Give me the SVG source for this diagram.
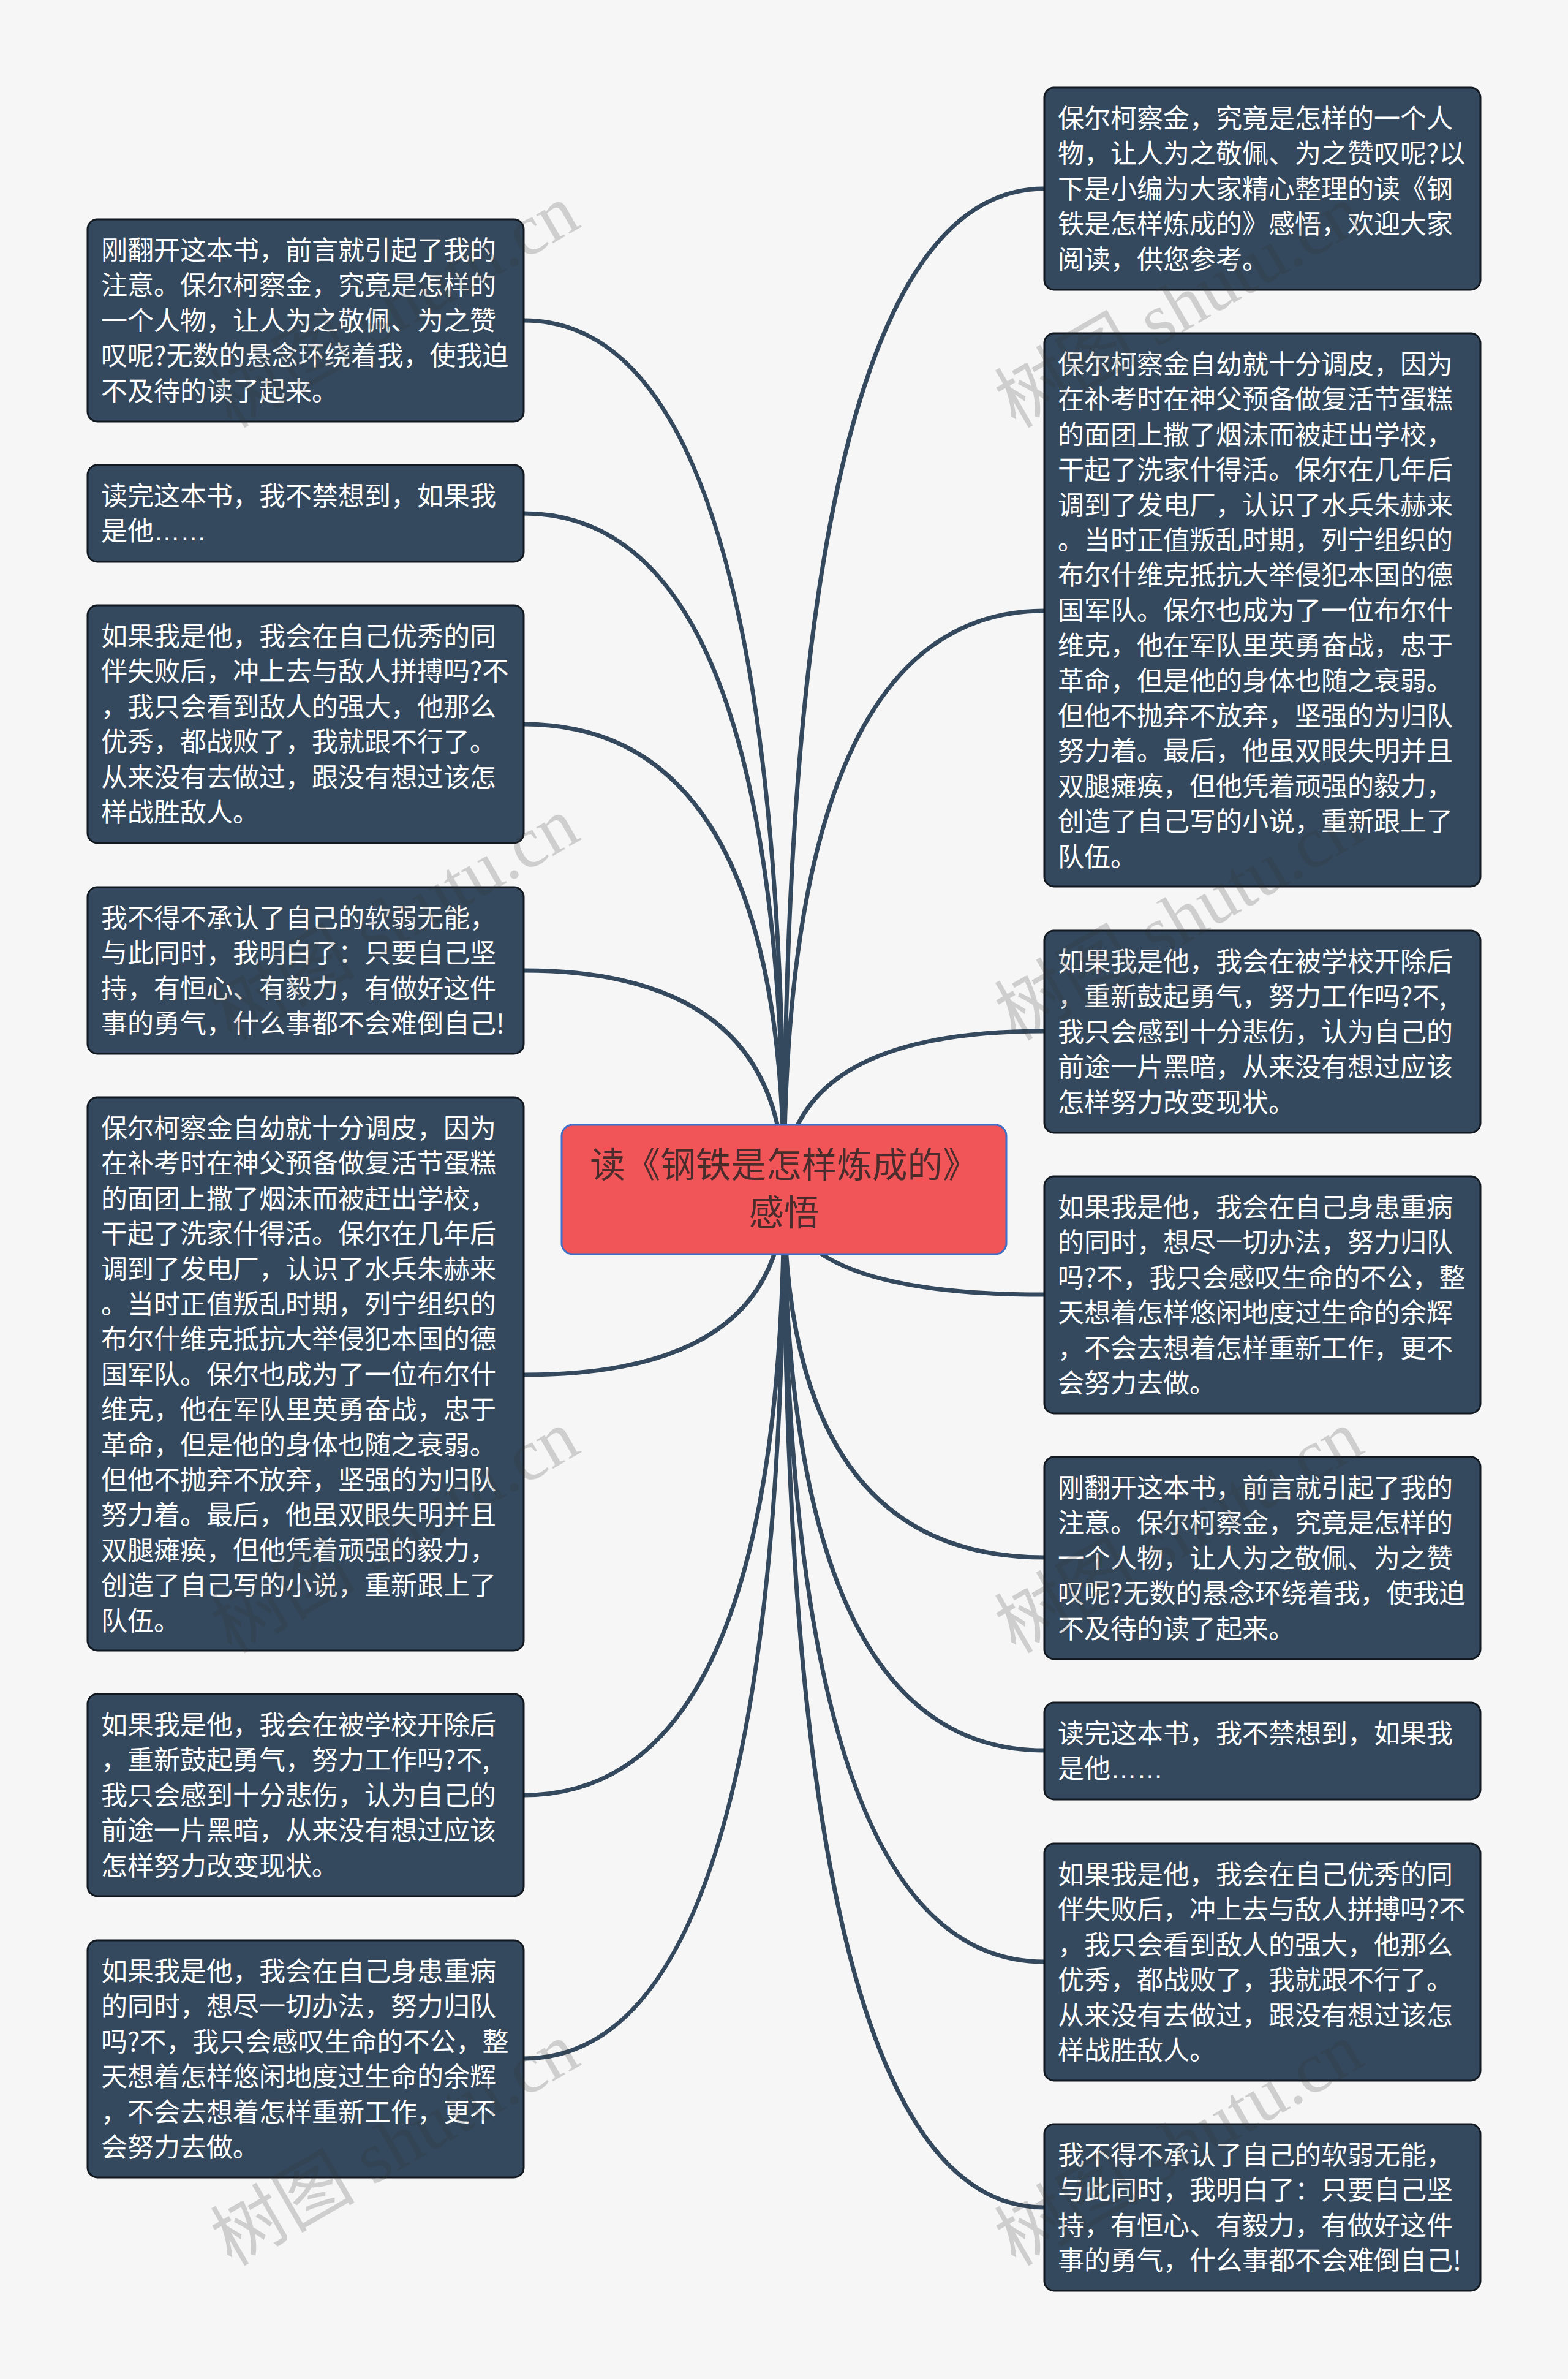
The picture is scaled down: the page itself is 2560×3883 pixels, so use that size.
<svg xmlns="http://www.w3.org/2000/svg" width="2560" height="3883" viewBox="0 0 2560 3883">
<style>
.bg{fill:#f6f6f6}
.conn{fill:none;stroke:#34495e;stroke-width:7;stroke-linecap:round}
.box{fill:#34495e;stroke:#111820;stroke-width:3}
.root{fill:#f25558;stroke:#3f6fc9;stroke-width:3}
.t{font-family:"Noto Sans CJK SC","Noto Sans",sans-serif;font-size:43px;fill:#ffffff}
.e{font-family:"Liberation Sans",sans-serif}
.rt{font-family:"Noto Sans CJK SC","Noto Sans",sans-serif;font-size:57.6px;fill:#4a2c2c;text-anchor:middle}
.wm{font-family:"Liberation Serif","Noto Sans CJK SC",serif;font-size:118px;fill:#333333;fill-opacity:.2}
</style>
<rect class="bg" width="2560" height="3883"/>
<g id="connectors">
<path class="conn" d="M1280 1941Q1280 523 855 523"/>
<path class="conn" d="M1280 1941Q1280 838 855 838"/>
<path class="conn" d="M1280 1941Q1280 1182 855 1182"/>
<path class="conn" d="M1280 1941Q1280 1584 855 1584"/>
<path class="conn" d="M1280 1941Q1280 2244 855 2244"/>
<path class="conn" d="M1280 1941Q1280 2930 855 2930"/>
<path class="conn" d="M1280 1941Q1280 3360 855 3360"/>
<path class="conn" d="M1280 1941Q1280 308 1705 308"/>
<path class="conn" d="M1280 1941Q1280 997 1705 997"/>
<path class="conn" d="M1280 1941Q1280 1683 1705 1683"/>
<path class="conn" d="M1280 1941Q1280 2113 1705 2113"/>
<path class="conn" d="M1280 1941Q1280 2542 1705 2542"/>
<path class="conn" d="M1280 1941Q1280 2857 1705 2857"/>
<path class="conn" d="M1280 1941Q1280 3202 1705 3202"/>
<path class="conn" d="M1280 1941Q1280 3603 1705 3603"/>
</g>
<g id="root">
<rect class="root" x="917" y="1836" width="726" height="211" rx="18"/>
<text class="rt" x="1280" y="1922">读《钢铁是怎样炼成的》</text>
<text class="rt" x="1280" y="2000">感悟</text>
</g>
<g id="left-1">
<rect class="box" x="143" y="358" width="712" height="330" rx="16"/>
<text class="t" y="424"><tspan x="165">刚翻开这本书，前言就引起了我的</tspan><tspan x="165" dy="57.4">注意。保尔柯察金，究竟是怎样的</tspan><tspan x="165" dy="57.4">一个人物，让人为之敬佩、为之赞</tspan><tspan x="165" dy="57.4">叹呢?无数的悬念环绕着我，使我迫</tspan><tspan x="165" dy="57.4">不及待的读了起来。</tspan></text>
</g>
<g id="left-2">
<rect class="box" x="143" y="759" width="712" height="158" rx="16"/>
<text class="t" y="825"><tspan x="165">读完这本书，我不禁想到，如果我</tspan><tspan x="165" dy="57.4">是他<tspan class="e">……</tspan></tspan></text>
</g>
<g id="left-3">
<rect class="box" x="143" y="988" width="712" height="388" rx="16"/>
<text class="t" y="1054"><tspan x="165">如果我是他，我会在自己优秀的同</tspan><tspan x="165" dy="57.4">伴失败后，冲上去与敌人拼搏吗?不</tspan><tspan x="165" dy="57.4">，我只会看到敌人的强大，他那么</tspan><tspan x="165" dy="57.4">优秀，都战败了，我就跟不行了。</tspan><tspan x="165" dy="57.4">从来没有去做过，跟没有想过该怎</tspan><tspan x="165" dy="57.4">样战胜敌人。</tspan></text>
</g>
<g id="left-4">
<rect class="box" x="143" y="1448" width="712" height="272" rx="16"/>
<text class="t" y="1514"><tspan x="165">我不得不承认了自己的软弱无能，</tspan><tspan x="165" dy="57.4">与此同时，我明白了：只要自己坚</tspan><tspan x="165" dy="57.4">持，有恒心、有毅力，有做好这件</tspan><tspan x="165" dy="57.4">事的勇气，什么事都不会难倒自己!</tspan></text>
</g>
<g id="left-5">
<rect class="box" x="143" y="1791" width="712" height="903" rx="16"/>
<text class="t" y="1857"><tspan x="165">保尔柯察金自幼就十分调皮，因为</tspan><tspan x="165" dy="57.4">在补考时在神父预备做复活节蛋糕</tspan><tspan x="165" dy="57.4">的面团上撒了烟沫而被赶出学校，</tspan><tspan x="165" dy="57.4">干起了洗家什得活。保尔在几年后</tspan><tspan x="165" dy="57.4">调到了发电厂，认识了水兵朱赫来</tspan><tspan x="165" dy="57.4">。当时正值叛乱时期，列宁组织的</tspan><tspan x="165" dy="57.4">布尔什维克抵抗大举侵犯本国的德</tspan><tspan x="165" dy="57.4">国军队。保尔也成为了一位布尔什</tspan><tspan x="165" dy="57.4">维克，他在军队里英勇奋战，忠于</tspan><tspan x="165" dy="57.4">革命，但是他的身体也随之衰弱。</tspan><tspan x="165" dy="57.4">但他不抛弃不放弃，坚强的为归队</tspan><tspan x="165" dy="57.4">努力着。最后，他虽双眼失明并且</tspan><tspan x="165" dy="57.4">双腿瘫痪，但他凭着顽强的毅力，</tspan><tspan x="165" dy="57.4">创造了自己写的小说，重新跟上了</tspan><tspan x="165" dy="57.4">队伍。</tspan></text>
</g>
<g id="left-6">
<rect class="box" x="143" y="2765" width="712" height="330" rx="16"/>
<text class="t" y="2831"><tspan x="165">如果我是他，我会在被学校开除后</tspan><tspan x="165" dy="57.4">，重新鼓起勇气，努力工作吗?不,</tspan><tspan x="165" dy="57.4">我只会感到十分悲伤，认为自己的</tspan><tspan x="165" dy="57.4">前途一片黑暗，从来没有想过应该</tspan><tspan x="165" dy="57.4">怎样努力改变现状。</tspan></text>
</g>
<g id="left-7">
<rect class="box" x="143" y="3167" width="712" height="387" rx="16"/>
<text class="t" y="3233"><tspan x="165">如果我是他，我会在自己身患重病</tspan><tspan x="165" dy="57.4">的同时，想尽一切办法，努力归队</tspan><tspan x="165" dy="57.4">吗?不，我只会感叹生命的不公，整</tspan><tspan x="165" dy="57.4">天想着怎样悠闲地度过生命的余辉</tspan><tspan x="165" dy="57.4">，不会去想着怎样重新工作，更不</tspan><tspan x="165" dy="57.4">会努力去做。</tspan></text>
</g>
<g id="right-1">
<rect class="box" x="1705" y="143" width="712" height="330" rx="16"/>
<text class="t" y="209"><tspan x="1727">保尔柯察金，究竟是怎样的一个人</tspan><tspan x="1727" dy="57.4">物，让人为之敬佩、为之赞叹呢?以</tspan><tspan x="1727" dy="57.4">下是小编为大家精心整理的读《钢</tspan><tspan x="1727" dy="57.4">铁是怎样炼成的》感悟，欢迎大家</tspan><tspan x="1727" dy="57.4">阅读，供您参考。</tspan></text>
</g>
<g id="right-2">
<rect class="box" x="1705" y="544" width="712" height="903" rx="16"/>
<text class="t" y="610"><tspan x="1727">保尔柯察金自幼就十分调皮，因为</tspan><tspan x="1727" dy="57.4">在补考时在神父预备做复活节蛋糕</tspan><tspan x="1727" dy="57.4">的面团上撒了烟沫而被赶出学校，</tspan><tspan x="1727" dy="57.4">干起了洗家什得活。保尔在几年后</tspan><tspan x="1727" dy="57.4">调到了发电厂，认识了水兵朱赫来</tspan><tspan x="1727" dy="57.4">。当时正值叛乱时期，列宁组织的</tspan><tspan x="1727" dy="57.4">布尔什维克抵抗大举侵犯本国的德</tspan><tspan x="1727" dy="57.4">国军队。保尔也成为了一位布尔什</tspan><tspan x="1727" dy="57.4">维克，他在军队里英勇奋战，忠于</tspan><tspan x="1727" dy="57.4">革命，但是他的身体也随之衰弱。</tspan><tspan x="1727" dy="57.4">但他不抛弃不放弃，坚强的为归队</tspan><tspan x="1727" dy="57.4">努力着。最后，他虽双眼失明并且</tspan><tspan x="1727" dy="57.4">双腿瘫痪，但他凭着顽强的毅力，</tspan><tspan x="1727" dy="57.4">创造了自己写的小说，重新跟上了</tspan><tspan x="1727" dy="57.4">队伍。</tspan></text>
</g>
<g id="right-3">
<rect class="box" x="1705" y="1519" width="712" height="330" rx="16"/>
<text class="t" y="1585"><tspan x="1727">如果我是他，我会在被学校开除后</tspan><tspan x="1727" dy="57.4">，重新鼓起勇气，努力工作吗?不,</tspan><tspan x="1727" dy="57.4">我只会感到十分悲伤，认为自己的</tspan><tspan x="1727" dy="57.4">前途一片黑暗，从来没有想过应该</tspan><tspan x="1727" dy="57.4">怎样努力改变现状。</tspan></text>
</g>
<g id="right-4">
<rect class="box" x="1705" y="1920" width="712" height="387" rx="16"/>
<text class="t" y="1986"><tspan x="1727">如果我是他，我会在自己身患重病</tspan><tspan x="1727" dy="57.4">的同时，想尽一切办法，努力归队</tspan><tspan x="1727" dy="57.4">吗?不，我只会感叹生命的不公，整</tspan><tspan x="1727" dy="57.4">天想着怎样悠闲地度过生命的余辉</tspan><tspan x="1727" dy="57.4">，不会去想着怎样重新工作，更不</tspan><tspan x="1727" dy="57.4">会努力去做。</tspan></text>
</g>
<g id="right-5">
<rect class="box" x="1705" y="2378" width="712" height="330" rx="16"/>
<text class="t" y="2444"><tspan x="1727">刚翻开这本书，前言就引起了我的</tspan><tspan x="1727" dy="57.4">注意。保尔柯察金，究竟是怎样的</tspan><tspan x="1727" dy="57.4">一个人物，让人为之敬佩、为之赞</tspan><tspan x="1727" dy="57.4">叹呢?无数的悬念环绕着我，使我迫</tspan><tspan x="1727" dy="57.4">不及待的读了起来。</tspan></text>
</g>
<g id="right-6">
<rect class="box" x="1705" y="2779" width="712" height="158" rx="16"/>
<text class="t" y="2845"><tspan x="1727">读完这本书，我不禁想到，如果我</tspan><tspan x="1727" dy="57.4">是他<tspan class="e">……</tspan></tspan></text>
</g>
<g id="right-7">
<rect class="box" x="1705" y="3009" width="712" height="387" rx="16"/>
<text class="t" y="3075"><tspan x="1727">如果我是他，我会在自己优秀的同</tspan><tspan x="1727" dy="57.4">伴失败后，冲上去与敌人拼搏吗?不</tspan><tspan x="1727" dy="57.4">，我只会看到敌人的强大，他那么</tspan><tspan x="1727" dy="57.4">优秀，都战败了，我就跟不行了。</tspan><tspan x="1727" dy="57.4">从来没有去做过，跟没有想过该怎</tspan><tspan x="1727" dy="57.4">样战胜敌人。</tspan></text>
</g>
<g id="right-8">
<rect class="box" x="1705" y="3467" width="712" height="272" rx="16"/>
<text class="t" y="3533"><tspan x="1727">我不得不承认了自己的软弱无能，</tspan><tspan x="1727" dy="57.4">与此同时，我明白了：只要自己坚</tspan><tspan x="1727" dy="57.4">持，有恒心、有毅力，有做好这件</tspan><tspan x="1727" dy="57.4">事的勇气，什么事都不会难倒自己!</tspan></text>
</g>
<g id="watermarks">
<text class="wm" transform="translate(378 700) rotate(-30)">树图 shutu.cn</text>
<text class="wm" transform="translate(378 1700) rotate(-30)">树图 shutu.cn</text>
<text class="wm" transform="translate(378 2700) rotate(-30)">树图 shutu.cn</text>
<text class="wm" transform="translate(378 3700) rotate(-30)">树图 shutu.cn</text>
<text class="wm" transform="translate(1658 700) rotate(-30)">树图 shutu.cn</text>
<text class="wm" transform="translate(1658 1700) rotate(-30)">树图 shutu.cn</text>
<text class="wm" transform="translate(1658 2700) rotate(-30)">树图 shutu.cn</text>
<text class="wm" transform="translate(1658 3700) rotate(-30)">树图 shutu.cn</text>
</g>
</svg>
